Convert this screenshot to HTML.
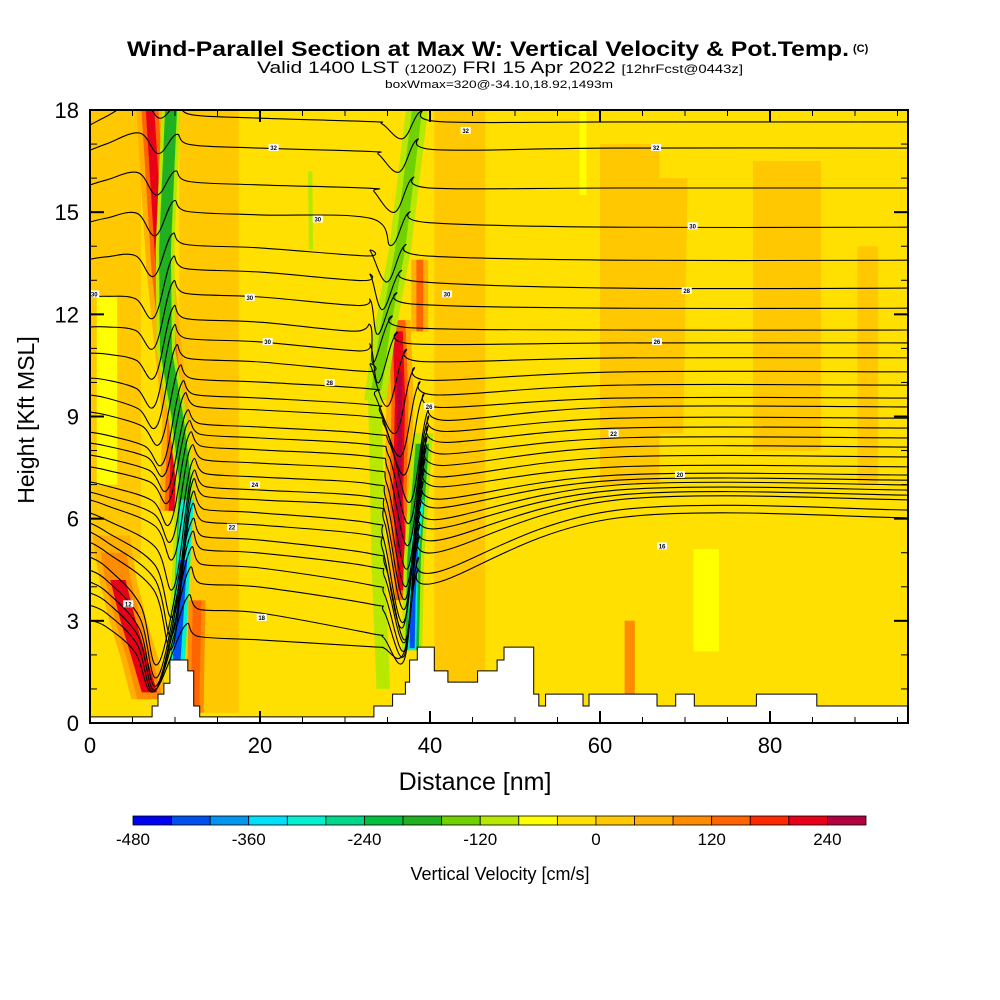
<!DOCTYPE html>
<html><head><meta charset="utf-8"><title>Wind-Parallel Section</title>
<style>
html,body{margin:0;padding:0;background:#fff;}
svg{display:block;font-family:"Liberation Sans",Arial,sans-serif;}
</style></head>
<body>
<svg id="chart" width="1000" height="1000" viewBox="0 0 1000 1000">
<text x="127" y="56" font-size="21" font-weight="bold" textLength="722" lengthAdjust="spacingAndGlyphs">Wind-Parallel Section at Max W: Vertical Velocity &amp; Pot.Temp.</text>
<text x="853" y="52" font-size="11" font-weight="bold">(C)</text>
<text x="257" y="73" font-size="17" textLength="486" lengthAdjust="spacingAndGlyphs">Valid 1400 LST <tspan font-size="12">(1200Z)</tspan> FRI 15 Apr 2022 <tspan font-size="12">[12hrFcst@0443z]</tspan></text>
<text x="385" y="88" font-size="11" textLength="228" lengthAdjust="spacingAndGlyphs">boxWmax=320@-34.10,18.92,1493m</text>
<defs><clipPath id="plotclip"><rect x="90" y="110" width="818" height="613"/></clipPath></defs>
<g id="plot" clip-path="url(#plotclip)"></g>
<g id="axes"></g>
<g id="cbar"></g>
<text x="475" y="790" font-size="25" text-anchor="middle">Distance [nm]</text>
<text x="34" y="420" font-size="23" text-anchor="middle" transform="rotate(-90 34 420)">Height [Kft MSL]</text>
<text x="500" y="880" font-size="18" text-anchor="middle">Vertical Velocity [cm/s]</text>
</svg>
<script>
// ---------------- data ----------------
const xTicks = [0, 20, 40, 60, 80];
const yTicks = [0, 3, 6, 9, 12, 15, 18];
const cbarTicks = [-480, -360, -240, -120, 0, 120, 240];
const cbarColors = ["#0000f0","#0050f0","#0096f0","#00e0f8","#00f0d0","#00d888","#00c040","#20b020","#70d000","#b8e800","#ffff00","#ffe000","#ffc800","#ffb000","#ff8c00","#ff6400","#ff2800","#e80018","#b00040"];
// terrain (step edges in nm, heights in kft)
const terrainEdges = [0,7.3,8.0,8.7,9.4,11.5,12.2,12.9,33.4,35.6,37.1,37.6,38.5,40.5,42.1,45.6,47.9,48.7,52.2,52.8,53.6,58.0,58.7,66.7,68.9,71.1,78.4,85.5,96.5];
const terrainHeights = [0.18,0.5,0.85,1.17,1.85,1.53,0.5,0.18,0.5,0.85,1.2,1.85,2.23,1.53,1.2,1.53,1.85,2.23,0.85,0.5,0.85,0.5,0.85,0.5,0.85,0.5,0.85,0.5];
// vertical velocity features: value (cm/s), half width (nm), centerline [nm,kft]
const bandValues = [20,20,20,20,20,20,20,-60,-60,-60,
  60,140,200, -100,-180,-300,-420,
  60,100,200,235, 80,150,
  60,140,200,260, 60,140,
  -100,-160,-100, -100,-200,-320,-420, -100, 100];
const bandHalfWidths = [3,3.5,3,3.5,4,1.8,1.2,1.5,0.4,1.2,
  1.6,1.0,0.5, 1.1,0.7,0.8,0.45,
  2.2,1.5,0.9,0.45, 1.0,0.5,
  1.6,1.0,0.6,0.3, 1.0,0.4,
  1.3,0.6,0.8, 1.2,0.8,0.5,0.3, 0.25, 0.6];
const bandPaths = [
  [[3,4.8],[3,18]], [[14,0.3],[14,18]], [[43.5,0.3],[43.5,18]], [[63.5,7],[63.5,17]], [[82,8],[82,16.5]], [[68,8.5],[68.5,16]], [[91.5,7],[91.5,14]],
  [[72.5,2.1],[72.5,5.1]], [[58,15.5],[58,18]], [[2,7],[2,12.5]],
  [[7.06,18],[8.24,13.3],[10.12,8.9],[9.76,6.23]], [[7.06,18],[8.24,13.3],[10.12,8.9],[9.76,6.23]], [[7.06,18],[8.24,13.3],[10.12,8.9],[9.76,6.23]],
  [[9.53,18],[8.82,13.89],[8.94,10.95],[10.35,8.9],[11.18,7.13],[10.82,4.79],[10.12,1.6]],
  [[9.53,18],[8.82,13.89],[8.94,10.95],[10.35,8.9],[11.18,7.13],[10.82,4.79],[10.12,1.6]],
  [[11.4,6.55],[11.0,4.8],[10.35,1.7]], [[11.0,4.79],[10.2,1.85]],
  [[2.5,5.5],[3.29,4.2],[4.47,3.02],[5.88,1.85],[7.06,0.7]], [[2.8,5.0],[3.29,4.2],[4.47,3.02],[5.88,1.85],[7.06,0.7]],
  [[3.29,4.2],[4.47,3.02],[5.88,1.85],[7.0,0.9]], [[3.8,3.6],[4.47,3.02],[5.7,2.0]],
  [[12.6,3.6],[12.35,0.3]], [[12.6,3.6],[12.35,0.3]],
  [[36.1,11.83],[36.47,9.48],[36.24,6.55],[36.94,3.61]], [[36.1,11.83],[36.47,9.48],[36.24,6.55],[36.94,3.61]], [[36.2,11.5],[36.47,9.48],[36.24,6.55],[36.9,3.9]], [[36.4,10.3],[36.4,8.0],[36.4,5.0]],
  [[38.8,13.6],[38.8,11.5]], [[38.8,13.6],[38.8,11.5]],
  [[38.47,18],[36.47,13.89],[34.71,11.54],[33.53,9.48]], [[38.47,18],[36.47,13.89],[34.71,11.54],[33.7,9.8]],
  [[33.53,9.48],[33.9,4.79],[34.5,1.0]],
  [[39.18,8.51],[38.59,6.55],[38.12,4.79],[37.88,2.14]], [[39.1,8.2],[38.59,6.55],[38.12,4.79],[37.88,2.14]], [[38.8,6.55],[38.12,4.79],[37.88,2.14]], [[38.4,5.6],[38.0,3.6],[37.9,2.2]],
  [[25.9,16.2],[26.0,13.9]], [[63.5,3.0],[63.5,0.8]]
];
// isentropes (kft): left edge, mid section, right edge, descent before wave 2, wave dips, pre-wave rise
const isenLeft  = [17.56,16.82,15.80,14.71,13.62,12.51,11.63,10.86,10.13,9.63,9.13,8.54,8.22,7.87,7.52,7.08,6.78,6.55,6.17,5.87,5.61,5.31,4.87,4.49,4.14,3.82,3.46,3.02];
const isenMid   = [17.76,16.88,15.80,14.92,13.95,13.24,12.51,11.77,11.19,10.60,10.01,9.54,9.19,8.69,8.37,8.02,7.63,7.22,6.84,6.55,6.17,5.81,5.37,4.99,4.55,3.99,3.23,2.44];
const isenRight = [17.65,16.88,15.71,14.56,13.59,12.77,12.18,11.54,11.16,10.72,10.31,9.92,9.54,9.28,8.95,8.66,8.37,8.10,7.81,7.52,7.28,7.13,6.99,6.84,6.69,6.55,6.25,6.02];
const isenDrop  = [0.1,0.1,0.1,0.1,0.1,0.1,0.1,0.1,0.1,0.1,0.2,0.2,0.2,0.2,0.2,0.2,0.2,0.2,0.2,0.2,0.3,0.3,0.4,0.4,0.5,0.5,0.6,0.2];
const isenPre   = [1.2,1.0,0.9,0.8,0.6,0.4,0.3,0.2,0.1,0,0,0,0,0,0,0,0,0,0,0,0,0,0,0,0,0,0,0];
const isenDip1  = [1.0,1.1,1.2,1.2,1.1,1.0,0.9,0.9,0.9,0.9,0.9,0.9,0.9,1.0,1.0,1.2,1.4,1.7,2.2,2.7,3.0,3.1,3.1,3.1,3.0,2.8,2.5,2.1];
const isenDip2  = [0.5,0.6,0.7,0.8,0.9,1.0,1.0,1.1,1.1,1.2,1.3,1.5,1.7,2.0,2.3,2.6,2.9,3.0,3.0,3.0,2.9,2.7,2.5,2.2,1.9,1.5,0.8,0.2];
const wave1Line = [[10.12,1.6],[10.82,4.79],[11.18,7.13],[10.35,8.9],[8.94,10.95],[8.82,13.89],[9.53,18]];
const wave2Line = [[37.88,2.14],[38.12,4.79],[38.59,6.55],[39.18,8.51],[36.5,10.5],[34.7,11.5],[36.47,13.89],[38.47,18]];
const labelD = [21.6,26.8,18.8,20.9,28.2,19.4,16.7,20.2,66.6,70.9,70.2,66.7,61.6,69.4,67.3,44.2,42.0,39.9,0.5,4.5];
const labelH = [16.9,14.8,12.5,11.2,10.0,7.0,5.75,3.1,16.9,14.6,12.7,11.2,8.5,7.3,5.2,17.4,12.6,9.3,12.6,3.5];
const labelText = ["32","30","30","30","28","24","22","18","32","30","28","26","22","20","16","32","30","26","30","12"];

// ---------------- scales ----------------
const NS = "http://www.w3.org/2000/svg";
const X0 = 90, X1 = 908, Y0 = 723, Y1 = 110;
const DMAX = (X1 - X0) / 8.5;
const xS = d => X0 + d * 8.5;
const yS = h => Y0 - h * (Y0 - Y1) / 18;
function colorOf(v){ let i = Math.floor((v + 480) / 40); i = Math.max(0, Math.min(18, i)); return cbarColors[i]; }
function mk(tag, attrs, parent){ const e = document.createElementNS(NS, tag); for (const k in attrs) e.setAttribute(k, attrs[k]); parent.appendChild(e); return e; }
const plot = document.getElementById("plot");
const axes = document.getElementById("axes");
const cbar = document.getElementById("cbar");

const bg = mk("rect", {x:X0, y:Y1, width:X1-X0, height:Y0-Y1, fill:colorOf(-20)}, plot);



bandPaths.forEach((pts, i) => {
  const hw = bandHalfWidths[i];
  const left = pts.map(p => xS(p[0]-hw).toFixed(1)+","+yS(p[1]).toFixed(1));
  const right = pts.slice().reverse().map(p => xS(p[0]+hw).toFixed(1)+","+yS(p[1]).toFixed(1));
  const poly = mk("polygon", {points: left.concat(right).join(" "), fill: colorOf(bandValues[i]), "stroke-linejoin":"round"}, plot);
  
  
});

function bandX(line, h){
  if (h <= line[0][1]) return line[0][0];
  for (let k = 1; k < line.length; k++){
    if (h <= line[k][1]){ const a = line[k-1], b = line[k]; const t = (h-a[1])/(b[1]-a[1]); return a[0] + t*(b[0]-a[0]); }
  }
  return line[line.length-1][0];
}
function smoothPath(pts){
  let d = "M" + pts[0][0].toFixed(1) + "," + pts[0][1].toFixed(1);
  for (let i = 0; i < pts.length - 1; i++){
    const p0 = pts[Math.max(0,i-1)], p1 = pts[i], p2 = pts[i+1], p3 = pts[Math.min(pts.length-1,i+2)];
    const t = 0.18;
    const c1 = [p1[0] + (p2[0]-p0[0])*t, p1[1] + (p2[1]-p0[1])*t];
    const c2 = [p2[0] - (p3[0]-p1[0])*t, p2[1] - (p3[1]-p1[1])*t];
    d += " C" + c1[0].toFixed(1)+","+c1[1].toFixed(1)+" "+c2[0].toFixed(1)+","+c2[1].toFixed(1)+" "+p2[0].toFixed(1)+","+p2[1].toFixed(1);
  }
  return d;
}
const isoG = mk("g", {fill:"none", stroke:"#000", "stroke-width":"1.1"}, plot);


isenLeft.forEach((L, i) => {
  const M = isenMid[i], M2 = M - isenDrop[i], R = isenRight[i];
  const d1 = isenDip1[i], d2 = isenDip2[i], pre = isenPre[i];
  const g1 = bandX(wave1Line, M);
  const g2 = bandX(wave2Line, M2);
  const off1 = M < 5.5 ? 2.8 : 1.3;
  const off2 = M2 < 5 ? 1.0 : 1.5;
  const P = (M2 + R) / 2;
  const top = L + pre;
  let cp = [[0,L],[2,L+0.3*pre-0.1*d1],[g1-off1-2.2,top-0.45*d1],[g1-off1,top-d1],[g1+0.8,M+0.4],[g1+2.5,M+0.1],[20,M],[33,M2],
            [g2-off2-2.4,M2-0.15*d2],[g2-off2,M2-d2],[g2+0.6,P+0.3],[g2+3,P],[62,R],[DMAX+1,R]];
  cp.sort((a,b)=>a[0]-b[0]);
  const filt = [];
  cp.forEach(p => { if (!filt.length || p[0] > filt[filt.length-1][0] + 0.3) filt.push(p); });
  const path = mk("path", {d: smoothPath(filt.map(p => [xS(p[0]), yS(p[1])]))}, isoG);
  
  
});

let tp = [xS(0)+","+(Y0+5)];
terrainHeights.forEach((h, i) => { tp.push(xS(terrainEdges[i]).toFixed(1)+","+yS(h).toFixed(1)); tp.push(xS(terrainEdges[i+1]).toFixed(1)+","+yS(h).toFixed(1)); });
tp.push(xS(DMAX+1)+","+(Y0+5));
const terr = mk("polygon", {points: tp.join(" "), fill:"#fff", stroke:"#000", "stroke-width":"1"}, plot);



labelD.forEach((d, i) => {
  const r = mk("rect", {x:xS(d)-5, y:yS(labelH[i])-3.5, width:10, height:7, fill:"#fff"}, plot);
  
  
  const t = mk("text", {x:xS(d), y:yS(labelH[i])+2.5, "font-size":"6", "font-weight":"bold", "text-anchor":"middle"}, plot);
  t.textContent = labelText[i];
  
  
});

const frame = mk("rect", {x:X0, y:Y1, width:X1-X0, height:Y0-Y1, fill:"none", stroke:"#000", "stroke-width":"2"}, axes);


for (let d = 0; d <= DMAX; d += 5){
  const major = d % 20 === 0; const len = major ? 12 : 6;
  const t1 = mk("line", {x1:xS(d), x2:xS(d), y1:Y0, y2:Y0-len, stroke:"#000", "stroke-width": major?2:1}, axes);
  
  
  const t2 = mk("line", {x1:xS(d), x2:xS(d), y1:Y1, y2:Y1+len, stroke:"#000", "stroke-width": major?2:1}, axes);
  
  
}
for (let h = 0; h <= 18; h += 1){
  const major = h % 3 === 0; const len = major ? 14 : 7;
  const t1 = mk("line", {x1:X0, x2:X0+len, y1:yS(h), y2:yS(h), stroke:"#000", "stroke-width": major?2:1}, axes);
  
  
  const t2 = mk("line", {x1:X1, x2:X1-len, y1:yS(h), y2:yS(h), stroke:"#000", "stroke-width": major?2:1}, axes);
  
  
}
xTicks.forEach(v => {
  const t = mk("text", {x:xS(v), y:753, "font-size":"22", "text-anchor":"middle"}, axes);
  t.textContent = v;
  
  
});
yTicks.forEach(v => {
  const t = mk("text", {x:79, y:yS(v)+8, "font-size":"22", "text-anchor":"end"}, axes);
  t.textContent = v;
  
  
});

const CB0 = 133, CB1 = 866, CBV0 = -480, CBV1 = 280;
const cS = v => CB0 + (v - CBV0) / (CBV1 - CBV0) * (CB1 - CB0);
cbarColors.forEach((c, i) => {
  const v = CBV0 + i * 40;
  const r = mk("rect", {x:cS(v), y:816, width:cS(v+40)-cS(v), height:9, fill:c, stroke:"#000", "stroke-width":"0.8"}, cbar);
  
  
});
cbarTicks.forEach(v => {
  const t = mk("text", {x:cS(v), y:845, "font-size":"17", "text-anchor":"middle"}, cbar);
  t.textContent = v;
  
  
});
</script>
</body></html>
